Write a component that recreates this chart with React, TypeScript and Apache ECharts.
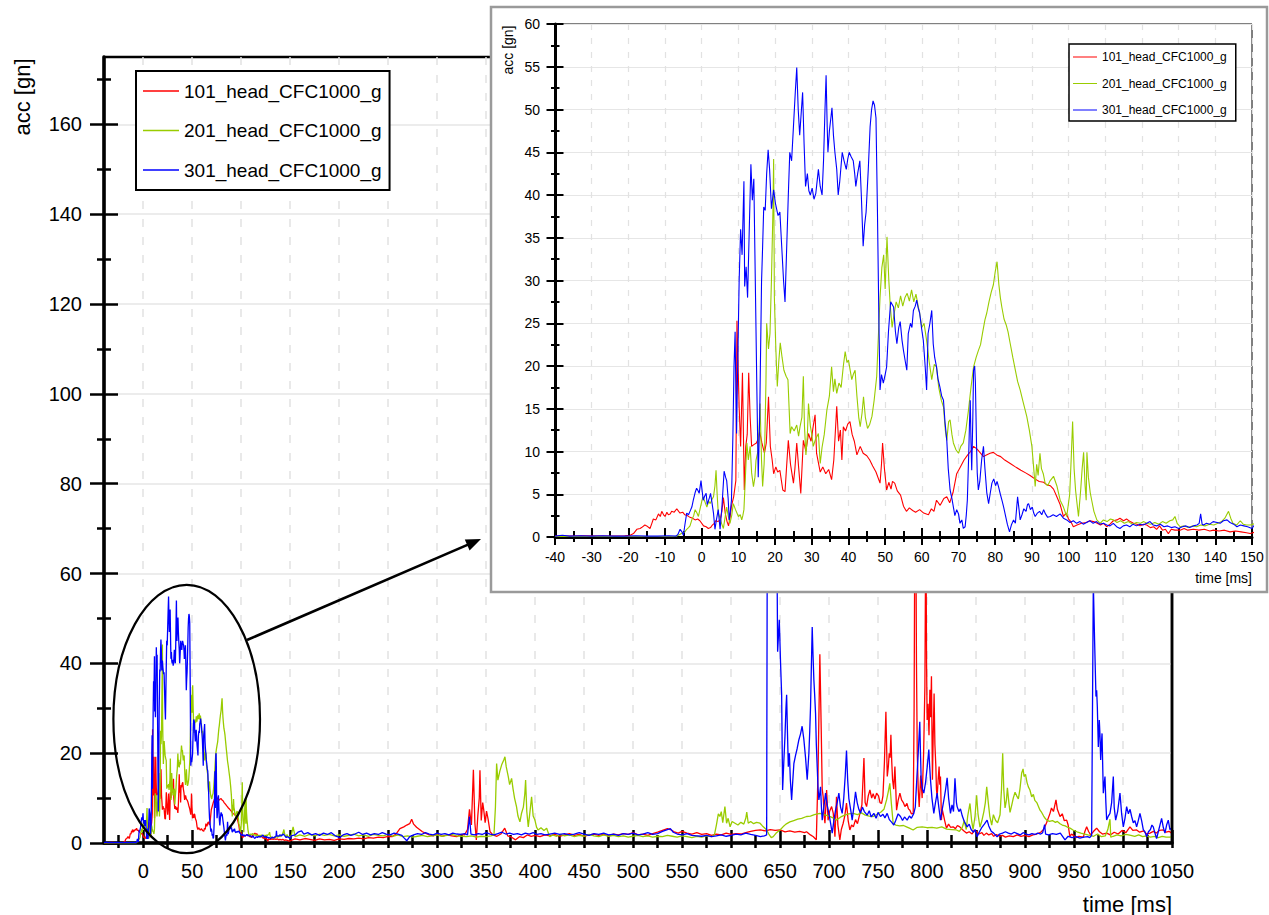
import React, { useEffect, useRef } from 'react';
import * as echarts from 'echarts';

const FONT = "'Liberation Sans', Arial, Helvetica, sans-serif";

const SERIES_NAMES = ['101_head_CFC1000_g', '201_head_CFC1000_g', '301_head_CFC1000_g'];
const SERIES_COLORS = ['#ff0000', '#99cc00', '#0000ff'];

// 101 head acceleration [time ms, acc g], impact phase
const head101Impact: [number, number][] = [
  [-40, 0.1], [-36, 0.1], [-32, 0.15], [-28, 0.1], [-24, 0.1], [-21, 0.15], [-19.5, 0.2], [-18.6, 0.4], [-17.7, 0.9], [-16.8, 1.0],
  [-16.4, 1.1], [-15.5, 1.4], [-15, 1.3], [-14.1, 1.0], [-13.6, 1.6], [-13.2, 2.1], [-12.5, 2.0], [-11.8, 2.7], [-11.3, 2.4], [-10.9, 3.0],
  [-10.4, 2.6], [-10, 2.4], [-9.5, 2.9], [-9.1, 2.6], [-8.6, 2.7], [-8.2, 3.0], [-7.5, 2.9], [-6.8, 3.3], [-6.3, 3.0], [-5.9, 2.8],
  [-5.2, 2.9], [-4.6, 2.6], [-3.9, 2.5], [-3.2, 2.3], [-2.5, 2.2], [-1.8, 2.0], [-1.1, 2.1], [-0.5, 1.9], [0.5, 1.3], [1.2, 1.2],
  [1.8, 1.0], [2.4, 1.1], [2.9, 1.4], [3.4, 1.6], [3.8, 1.9], [4.4, 1.8], [5.0, 2.0], [5.5, 3.0], [5.9, 4.6], [6.4, 2.8],
  [6.9, 1.8], [7.3, 1.3], [7.7, 2.2], [8.1, 3.6], [8.7, 4.7], [9.3, 6.6], [9.6, 25.3], [10.2, 15.2], [10.6, 10.6], [11.1, 19.2],
  [11.6, 5.5], [12.0, 10.6], [12.4, 12.0], [12.8, 19.2], [13.2, 14.0], [13.6, 10.6], [14.2, 10.8], [14.9, 11.0], [15.4, 11.5], [15.8, 12.3],
  [16.4, 11.0], [17.1, 9.8], [17.6, 11.0], [18.2, 16.4], [18.7, 10.6], [19.2, 9.0], [19.6, 7.4], [20.2, 8.2], [20.7, 7.6], [21.3, 7.8],
  [22.1, 5.5], [22.7, 5.3], [23.1, 8.0], [23.6, 11.3], [24.2, 8.5], [25.0, 6.3], [25.4, 8.0], [25.9, 11.0], [26.4, 8.2], [27.0, 5.1],
  [27.7, 11.3], [28.4, 10.0], [29.1, 12.1], [29.8, 11.2], [30.4, 13.0], [30.9, 14.3], [31.3, 9.8], [32.3, 7.6], [33.0, 8.2], [33.8, 7.4],
  [34.6, 7.9], [35.4, 6.7], [36.0, 9.0], [36.8, 15.3], [37.3, 11.2], [37.8, 12.5], [38.2, 9.0], [38.6, 12.9], [39.2, 12.4], [39.8, 13.2],
  [40.4, 13.5], [41.0, 12.0], [41.6, 11.2], [42.3, 9.6], [43.2, 10.6], [44.0, 9.8], [45.0, 9.5], [45.8, 9.0], [46.6, 8.3], [47.5, 7.6],
  [48.6, 6.3], [49.0, 8.5], [49.3, 11.0], [49.8, 8.0], [50.4, 5.5], [51.0, 6.4], [51.6, 5.6], [52.0, 6.5], [52.6, 6.3], [53.3, 5.4],
  [54.2, 4.9], [55.0, 3.6], [55.8, 3.0], [56.6, 3.4], [57.5, 3.1], [58.3, 2.9], [59.4, 3.2], [60.5, 2.8], [61.8, 2.6], [62.6, 3.3],
  [63.3, 3.0], [64.0, 4.3], [65.0, 3.7], [66.0, 4.5], [66.8, 4.7], [67.6, 4.0], [68.5, 5.2], [69.5, 7.4], [70.5, 8.2], [71.5, 9.0],
  [72.5, 9.6], [73.3, 10.0], [74.1, 10.6], [75.0, 10.3], [76.0, 9.8], [76.8, 9.4], [77.6, 9.6], [78.6, 9.8], [79.5, 9.9], [80.4, 9.6],
  [81.5, 9.4], [82.6, 9.0], [84.1, 8.6], [85.5, 8.2], [87.0, 7.8], [88.3, 7.5], [89.5, 7.2], [90.8, 6.8], [92.0, 6.5], [93.2, 6.4],
  [94.1, 6.1], [95.0, 6.0], [95.9, 5.6], [96.8, 4.7], [97.7, 3.8], [98.6, 2.4], [99.3, 2.8], [100.0, 2.1], [100.6, 1.8], [101.3, 1.2],
  [102.3, 1.4], [103.5, 1.6], [104.8, 1.7], [105.8, 1.9], [106.8, 1.8], [107.8, 1.6], [108.7, 1.4], [109.5, 1.6], [110.4, 1.2], [111.3, 1.5],
  [112.2, 1.9], [113.2, 2.0], [114.0, 2.2], [115.0, 1.9], [115.8, 2.1], [116.8, 1.8], [117.7, 1.6], [118.6, 1.5], [119.5, 1.3], [120.4, 1.5],
  [121.3, 1.4], [122.3, 1.1], [123.2, 1.2], [124.0, 0.9], [124.8, 1.3], [125.6, 0.8], [126.4, 0.9], [127.2, 0.4], [128.0, 0.9], [129.0, 0.8],
  [130.4, 0.8], [131.5, 1.0], [132.5, 0.8], [134.0, 0.9], [135.5, 0.8], [137.0, 0.9], [138.5, 0.7], [139.5, 0.8], [141.0, 0.7], [142.5, 0.8],
  [144.0, 0.6], [145.5, 0.7], [147.0, 0.6], [148.5, 0.5], [149.5, 0.4],
];

// 101 head acceleration, remaining record
const head101Tail: [number, number][] = [
  [151, 0.6], [155, 0.9], [160, 0.7], [165, 1.0], [170, 0.8], [175, 0.6], [180, 0.9], [185, 0.7], [190, 0.8], [195, 0.6],
  [200, 0.9], [205, 0.8], [210, 1.0], [215, 0.9], [220, 1.1], [225, 0.9], [230, 1.2], [235, 1.1], [240, 1.3], [245, 1.2],
  [250, 1.5], [254, 1.4], [258, 2.0], [262, 3.2], [266, 3.6], [269, 4.0], [272, 4.3], [274, 5.3], [276, 4.2], [279, 3.5],
  [282, 3.0], [285, 2.5], [288, 2.2], [292, 1.8], [296, 1.6], [300, 1.9], [305, 1.5], [310, 1.8], [315, 1.6], [320, 1.4],
  [324, 1.9], [328, 1.8], [331, 3.0], [333, 7.5], [335, 4.0], [337, 16.3], [338.5, 4.5], [340, 0.7], [341.5, 6.0], [343, 10.0],
  [343.7, 16.2], [345, 5.0], [346.5, 9.0], [347.5, 7.5], [349, 4.5], [350.4, 7.1], [352, 5.3], [354, 2.5], [357, 1.8], [361, 1.5],
  [365, 2.0], [369, 3.3], [372, 1.6], [376, 1.3], [380, 0.7], [384, 1.4], [388, 1.2], [392, 1.8], [396, 1.5], [400, 1.7],
  [405, 1.4], [410, 1.8], [415, 1.6], [420, 1.9], [425, 1.5], [430, 1.8], [435, 2.1], [440, 1.7], [445, 1.9], [450, 1.5],
  [455, 1.8], [460, 2.0], [465, 1.7], [470, 1.9], [475, 1.6], [480, 2.0], [485, 1.8], [490, 2.1], [495, 1.9], [500, 2.3],
  [505, 1.8], [510, 2.0], [515, 1.7], [520, 2.1], [525, 2.4], [530, 2.8], [535, 3.2], [538, 3.0], [542, 2.5], [546, 2.2],
  [550, 2.6], [555, 2.2], [560, 2.0], [565, 2.3], [570, 1.9], [575, 2.1], [580, 1.7], [585, 2.0], [590, 1.8], [595, 2.2],
  [600, 1.9], [605, 2.1], [610, 2.0], [615, 2.3], [620, 2.6], [625, 2.8], [630, 2.9], [635, 2.7], [640, 3.0], [645, 2.8],
  [650, 2.9], [655, 2.5], [660, 2.7], [665, 2.4], [670, 2.6], [675, 2.3], [677, 2.5], [681, 1.8], [684, 1.4], [687, 0.7],
  [688.8, 16.4], [690.6, 42.0], [692, 25.2], [693, 12.0], [694, 10.3], [695, 6.0], [695.8, 4.4], [697.5, 11.8], [699, 5.1], [700.5, 7.0],
  [702.6, 8.1], [704.3, 6.6], [706, 1.4], [707.6, 10.3], [709, 4.0], [711, 0.7], [712.5, 3.0], [714.4, 4.4], [716, 6.0], [717.8, 8.9],
  [719.5, 5.0], [721.2, 2.9], [723, 4.0], [724.8, 3.6], [727, 5.2], [729, 4.3], [731.5, 6.6], [733.5, 8.5], [735.6, 18.9], [736.8, 9.0],
  [738.3, 8.1], [740, 10.5], [741.7, 11.8], [743.5, 10.0], [745, 11.0], [746.8, 9.8], [748.5, 11.1], [750.5, 10.5], [752, 9.0], [753.6, 8.8],
  [755, 10.5], [756.5, 18.0], [758, 29.2], [759.4, 14.8], [760.5, 17.0], [761.4, 20.0], [762.3, 19.0], [763.1, 24.1], [764, 18.0], [764.8, 14.1],
  [766, 12.0], [767.2, 17.0], [768.1, 12.0], [768.9, 7.3], [770.5, 9.5], [772.3, 11.1], [774, 9.6], [775.8, 9.0], [777.4, 8.1], [779.5, 8.8],
  [781, 7.6], [782.5, 7.3], [784, 6.5], [785.9, 6.6], [786.8, 30.0], [787.6, 75.0], [788.5, 75.0], [789.2, 40.0], [790, 20.0], [791, 12.0],
  [792, 8.0], [793.5, 15.0], [795, 10.0], [796.5, 20.0], [797.8, 34.8], [798.8, 75.0], [799.5, 40.0], [800.1, 27.4], [801, 31.0], [802, 24.0],
  [802.9, 34.1], [803.7, 28.0], [804.5, 37.1], [805.5, 14.1], [806.3, 24.0], [807.2, 33.3], [808, 22.0], [809, 17.0], [809.6, 12.0], [810.3, 10.3],
  [811.3, 14.0], [812.3, 17.0], [813, 13.0], [813.7, 14.8], [814.7, 5.1], [815.5, 7.5], [816.4, 6.6], [818, 5.0], [819.8, 3.3], [822, 4.2],
  [824, 3.5], [826.6, 3.6], [829, 3.2], [831, 3.9], [833.4, 3.6], [836, 3.0], [838, 2.6], [840.2, 2.2], [843, 2.5], [846, 2.0],
  [848, 2.8], [850.4, 2.6], [853, 2.0], [856, 2.3], [858, 1.7], [860.6, 2.2], [863, 1.8], [866, 2.1], [868, 1.5], [870.8, 1.9],
  [874, 1.5], [877, 1.7], [880, 1.3], [884, 1.6], [888, 1.4], [892, 1.8], [896, 1.5], [900, 1.7], [904, 1.4], [908, 1.8],
  [912, 2.0], [916, 2.4], [919, 3.0], [922, 4.5], [925.5, 6.6], [927, 7.8], [929, 7.0], [931.6, 9.6], [933, 7.5], [935.7, 5.9],
  [938, 6.5], [940, 5.0], [942.5, 5.1], [944, 4.0], [945.8, 1.4], [947.5, 2.0], [949.3, 1.7], [952, 1.2], [955, 1.5], [959.5, 1.3],
  [961, 2.5], [962.9, 3.6], [965, 2.5], [967, 1.8], [970, 2.6], [973.1, 3.3], [976, 2.5], [979, 2.0], [983.3, 2.2], [987, 1.8],
  [991, 2.4], [995, 2.0], [999, 2.8], [1003, 2.3], [1007.1, 3.6], [1010, 2.8], [1013.9, 2.9], [1017, 2.4], [1021, 2.7], [1024, 2.0],
  [1027.5, 2.2], [1031, 2.6], [1034, 2.2], [1037, 2.8], [1041.1, 2.9], [1044, 2.4], [1047, 2.6], [1049.6, 2.2],
];

// 201 head acceleration, impact phase
const head201Impact: [number, number][] = [
  [-40, 0.05], [-30, 0.05], [-20, 0.05], [-12, 0.05], [-7.5, 0.05], [-6.8, 0.1], [-6.0, 0.3], [-5.2, 0.5], [-4.6, 0.6], [-4.1, 0.9],
  [-3.6, 1.1], [-3.2, 1.3], [-2.7, 2.0], [-2.2, 2.5], [-1.8, 3.2], [-1.3, 2.8], [-0.9, 2.4], [-0.4, 3.4], [0.3, 4.7], [0.8, 4.2],
  [1.4, 3.5], [1.9, 4.2], [2.3, 3.9], [2.8, 4.4], [3.2, 4.7], [3.6, 6.0], [3.9, 7.8], [4.2, 5.0], [4.5, 2.8], [5.0, 2.2],
  [5.4, 1.6], [5.9, 1.0], [6.4, 2.4], [6.8, 3.5], [7.2, 2.5], [7.7, 1.6], [8.2, 2.6], [8.6, 3.9], [9.2, 3.2], [10.0, 2.4],
  [10.5, 2.6], [10.9, 2.0], [11.2, 2.5], [11.5, 3.2], [11.9, 7.0], [12.3, 11.0], [12.7, 9.0], [13.2, 10.6], [13.6, 7.5], [14.1, 5.9],
  [14.5, 7.0], [14.8, 9.0], [15.4, 10.2], [15.9, 15.6], [16.3, 9.0], [16.6, 5.9], [17.0, 8.5], [17.2, 11.3], [17.5, 18.0], [17.7, 25.0],
  [18.2, 22.0], [18.6, 23.8], [19.0, 30.0], [19.4, 38.0], [19.6, 44.2], [19.8, 28.0], [20.2, 22.0], [20.6, 17.6], [21.0, 20.5], [21.4, 22.7],
  [21.9, 21.0], [22.4, 19.5], [23.0, 18.8], [23.5, 18.4], [24.1, 12.1], [24.5, 12.9], [25.2, 12.4], [25.9, 13.1], [26.4, 11.8], [26.8, 12.9],
  [27.3, 14.0], [27.7, 18.8], [28.0, 13.0], [28.4, 9.6], [28.8, 12.0], [29.1, 15.6], [29.6, 13.0], [30.0, 12.0], [30.4, 10.6], [31.0, 11.4],
  [31.8, 12.1], [32.3, 8.6], [32.8, 10.5], [33.4, 12.0], [34.1, 14.8], [34.8, 16.5], [35.4, 19.9], [35.9, 17.0], [36.3, 18.5], [36.8, 16.8],
  [37.4, 18.0], [38.0, 17.5], [38.6, 20.0], [39.1, 21.7], [39.6, 20.4], [40.0, 20.7], [40.5, 19.4], [40.9, 18.4], [41.3, 19.0], [41.8, 19.5],
  [42.3, 16.5], [42.8, 14.0], [43.2, 12.9], [43.7, 14.5], [44.1, 16.4], [44.6, 14.0], [45.2, 12.7], [45.8, 13.2], [46.4, 14.1], [47.0, 16.0],
  [47.7, 18.8], [48.2, 24.0], [48.6, 28.0], [49.1, 31.5], [49.6, 33.0], [50.0, 29.0], [50.5, 35.1], [51.0, 30.0], [51.4, 27.0], [51.9, 24.5],
  [52.4, 26.0], [53.0, 27.5], [53.6, 26.8], [54.2, 28.2], [54.8, 27.0], [55.4, 28.0], [56.0, 28.5], [56.6, 27.6], [57.2, 28.9], [57.8, 27.5],
  [58.4, 28.4], [59.0, 27.0], [59.4, 26.2], [60.0, 24.5], [60.6, 25.0], [61.3, 23.0], [62.0, 20.5], [62.7, 18.4], [63.4, 20.2], [64.0, 19.9],
  [64.6, 17.5], [65.3, 16.0], [65.9, 15.2], [66.4, 12.5], [66.8, 11.3], [67.3, 13.5], [67.7, 13.7], [68.2, 12.0], [68.6, 11.0], [69.3, 10.2],
  [70.0, 9.8], [70.6, 10.6], [71.3, 11.0], [72.0, 12.5], [72.7, 14.8], [73.4, 17.5], [74.1, 19.9], [74.8, 21.0], [75.4, 21.8], [76.0, 22.5],
  [76.6, 24.0], [77.2, 25.4], [77.7, 26.2], [78.3, 27.5], [78.9, 28.6], [79.5, 29.5], [80.0, 31.0], [80.5, 32.2], [81.0, 29.5], [81.4, 28.0],
  [81.8, 26.9], [82.4, 25.5], [83.0, 24.8], [83.5, 24.0], [84.1, 22.6], [84.8, 21.0], [85.5, 19.5], [86.1, 18.2], [86.8, 17.2], [87.6, 15.8],
  [88.6, 14.1], [89.3, 12.5], [90.0, 10.6], [90.5, 8.0], [90.9, 5.9], [91.3, 8.5], [91.7, 7.2], [92.2, 9.8], [92.6, 8.0], [93.1, 7.4],
  [93.6, 6.3], [94.3, 6.0], [95.0, 6.6], [95.9, 7.1], [96.8, 6.0], [97.7, 4.3], [98.6, 3.5], [99.5, 2.4], [100.3, 5.0], [100.7, 9.0],
  [101.1, 13.5], [101.5, 8.0], [101.9, 5.5], [102.2, 4.3], [102.7, 2.4], [103.3, 5.5], [103.7, 8.0], [104.1, 9.9], [104.5, 6.0], [104.8, 4.3],
  [105.0, 9.9], [105.4, 7.0], [105.9, 5.2], [106.3, 4.3], [106.9, 3.0], [107.7, 2.0], [108.6, 1.6], [109.5, 2.0], [110.5, 1.8], [111.4, 2.1],
  [112.2, 2.0], [113.2, 1.7], [114.2, 1.9], [115.2, 1.6], [116.3, 1.8], [117.4, 1.5], [118.5, 1.7], [119.6, 1.6], [120.5, 1.8], [121.3, 1.6],
  [122.4, 1.5], [123.5, 1.7], [124.6, 1.5], [125.6, 1.8], [126.6, 1.6], [127.6, 1.9], [128.4, 2.0], [129.0, 2.4], [129.6, 1.6], [130.4, 1.2],
  [131.5, 1.3], [132.6, 1.1], [133.7, 1.3], [134.9, 1.2], [136.0, 1.4], [137.2, 1.3], [138.4, 1.5], [139.6, 1.4], [140.7, 1.6], [141.7, 1.8],
  [142.6, 2.2], [143.6, 3.0], [144.2, 2.2], [144.8, 1.6], [145.8, 1.4], [146.8, 1.9], [147.6, 1.5], [148.5, 1.4], [149.5, 1.4],
];

// 201 head acceleration, remaining record
const head201Tail: [number, number][] = [
  [151, 1.6], [153, 3.6], [155, 1.4], [160, 1.8], [165, 1.5], [170, 1.9], [175, 1.6], [180, 2.0], [185, 1.7], [190, 1.9],
  [195, 1.6], [200, 1.8], [205, 1.5], [210, 1.7], [215, 2.0], [220, 1.6], [225, 1.8], [230, 1.5], [235, 1.9], [240, 1.7],
  [245, 1.6], [250, 1.9], [255, 1.5], [260, 1.8], [265, 1.4], [270, 1.6], [275, 1.3], [280, 1.5], [285, 1.7], [290, 1.4],
  [295, 1.6], [300, 1.8], [305, 1.5], [310, 1.7], [315, 1.9], [320, 1.6], [325, 1.5], [330, 1.4], [335, 1.6], [340, 1.3],
  [345, 1.5], [350, 1.4], [355, 1.6], [358, 1.8], [359.5, 8.0], [360.7, 17.7], [362, 14.0], [364, 16.0], [366, 17.5], [368, 18.5],
  [369.2, 19.2], [370.5, 17.0], [372.6, 14.8], [374, 13.0], [376, 14.4], [377.5, 12.0], [379, 10.0], [381, 8.1], [382.5, 6.0], [384.5, 4.7],
  [386, 6.5], [388, 8.0], [389.5, 11.0], [390.3, 14.0], [391.5, 7.0], [393, 3.6], [394.5, 6.5], [396.4, 10.3], [398, 6.0], [399.8, 5.1],
  [401.5, 3.5], [403, 2.9], [406, 3.4], [409, 2.8], [411.8, 3.3], [413.5, 2.2], [415, 1.4], [418, 1.8], [422, 1.5], [426, 1.9],
  [430, 1.6], [435, 1.8], [440, 1.4], [445, 1.7], [450, 1.5], [455, 1.9], [460, 1.6], [465, 1.4], [470, 1.8], [475, 1.5],
  [480, 1.7], [485, 1.4], [490, 1.6], [495, 1.3], [500, 1.5], [505, 1.7], [510, 1.4], [515, 1.6], [520, 1.3], [525, 1.5],
  [530, 1.4], [535, 1.7], [540, 1.5], [545, 1.3], [550, 1.6], [555, 1.4], [560, 1.2], [565, 1.5], [570, 1.3], [575, 1.6],
  [580, 1.4], [583, 1.8], [585, 4.0], [587, 6.5], [588.6, 5.9], [590, 7.0], [591.5, 4.5], [593.7, 8.1], [595.4, 4.4], [597, 5.5],
  [599, 3.6], [601, 4.8], [604, 4.4], [607, 4.0], [610, 4.6], [613, 4.2], [615, 5.5], [616, 6.9], [617.5, 4.4], [620, 4.8],
  [623, 4.3], [626, 4.6], [629.5, 4.4], [632, 3.8], [634, 3.4], [636.3, 2.9], [638.5, 2.0], [641, 1.2], [643, 1.4], [646, 2.2],
  [649.9, 2.9], [653, 3.6], [656, 4.2], [660, 4.7], [664, 5.0], [668, 5.3], [672, 5.5], [677, 5.9], [681, 6.0], [685, 6.3],
  [690.6, 6.6], [695, 6.3], [700, 6.0], [704, 5.6], [707.6, 5.1], [712, 5.8], [716, 6.2], [720, 6.5], [724.6, 6.6], [729, 6.3],
  [733, 6.7], [737, 6.2], [741, 6.0], [745, 5.9], [749, 6.4], [753, 6.9], [756, 7.5], [758.7, 9.6], [760.5, 11.5], [762, 13.3],
  [763.5, 9.0], [765.4, 4.4], [768, 4.0], [772, 3.8], [776, 3.9], [779, 3.6], [782, 3.3], [785.8, 2.9], [790, 3.5], [795, 3.6],
  [800, 3.4], [805, 3.5], [810, 3.3], [815, 3.6], [820, 3.1], [825, 3.0], [830, 2.9], [833, 2.6], [836, 3.5], [838, 5.0],
  [840, 3.0], [841.5, 6.0], [843.8, 8.8], [845.5, 5.0], [847, 3.0], [849, 6.0], [850.6, 10.6], [852, 6.5], [854, 3.5], [856, 5.0],
  [858, 7.0], [859.5, 9.0], [860.9, 12.5], [862.5, 9.0], [864, 6.0], [866, 4.0], [867.7, 6.3], [870, 5.0], [872, 4.5], [874.5, 6.3],
  [876, 12.0], [877.2, 20.0], [878.3, 12.0], [879.6, 7.8], [881, 9.5], [882, 12.3], [883.5, 9.0], [884.7, 6.8], [886.5, 8.5], [888, 10.0],
  [889.8, 11.3], [891.5, 10.5], [893.2, 9.8], [894.8, 12.0], [896.6, 15.6], [898, 16.5], [899, 14.8], [900.5, 15.3], [902, 13.5], [903.4, 12.5],
  [905, 11.8], [906.8, 10.3], [908.5, 10.8], [910, 9.5], [912, 9.0], [913.6, 8.2], [915.3, 7.3], [917, 6.8], [919, 6.0], [920.5, 5.5],
  [922.1, 5.1], [925, 4.8], [928, 5.0], [931, 4.6], [933, 4.8], [935.7, 4.3], [938, 4.0], [941, 3.8], [943.5, 3.5], [945.9, 3.3],
  [949, 2.9], [953, 2.5], [957, 2.2], [961, 2.0], [964, 1.8], [966.3, 1.7], [970, 1.5], [974, 2.0], [978, 1.4], [982, 1.6],
  [984.5, 3.0], [986.7, 5.3], [987.5, 1.3], [990, 1.5], [994, 1.8], [998, 1.6], [1003, 1.9], [1008, 1.7], [1012, 1.5], [1016, 1.8],
  [1020, 1.4], [1024, 1.6], [1028, 1.3], [1032, 1.5], [1036, 1.2], [1040, 1.5], [1044, 1.3], [1048, 1.3], [1050, 1.4],
];

// 301 head acceleration, impact phase
const head301Impact: [number, number][] = [
  [-40, 0.1], [-38, 0.2], [-36, 0.1], [-33, 0.15], [-30, 0.1], [-27, 0.15], [-24, 0.1], [-21, 0.1], [-18, 0.15], [-15, 0.1],
  [-12, 0.1], [-9, 0.15], [-7, 0.1], [-6.5, 0.3], [-5.9, 0.9], [-5.4, 0.6], [-5.0, 0.2], [-4.6, 1.4], [-4.1, 2.8], [-3.6, 2.6],
  [-3.2, 3.0], [-2.7, 3.5], [-2.3, 4.3], [-1.8, 5.2], [-1.4, 5.7], [-1.0, 5.4], [-0.7, 5.1], [-0.2, 6.6], [0.4, 4.3], [0.8, 4.8],
  [1.2, 5.1], [1.5, 3.8], [1.8, 4.2], [2.1, 4.6], [2.4, 5.1], [2.8, 4.0], [3.2, 2.8], [3.6, 0.9], [4.0, 2.0], [4.5, 3.2],
  [5.0, 0.9], [5.5, 3.5], [6.1, 7.7], [6.5, 7.0], [6.8, 6.6], [7.2, 4.5], [7.5, 2.0], [7.8, 3.0], [8.1, 4.3], [8.5, 12.0],
  [8.8, 20.0], [9.1, 24.0], [9.3, 17.0], [9.5, 12.1], [9.8, 20.0], [10.2, 30.0], [10.6, 36.0], [11.0, 33.0], [11.5, 41.6], [11.7, 29.3],
  [12.1, 31.6], [12.5, 28.0], [12.9, 35.0], [13.4, 43.6], [13.8, 39.4], [14.2, 41.9], [14.6, 30.0], [15.0, 18.0], [15.4, 7.0], [15.8, 14.0],
  [16.3, 29.8], [16.6, 34.0], [16.9, 38.6], [17.3, 38.2], [17.7, 42.5], [18.1, 45.3], [18.5, 43.0], [19.0, 38.4], [19.3, 39.5], [19.6, 40.6],
  [20.1, 39.0], [20.8, 37.6], [21.3, 38.0], [21.8, 34.0], [22.3, 30.0], [22.7, 27.5], [23.1, 33.0], [23.6, 40.0], [24.0, 45.0], [24.5, 44.0],
  [25.0, 48.0], [25.5, 52.0], [25.9, 54.9], [26.3, 50.0], [26.7, 47.0], [27.1, 49.5], [27.5, 52.0], [27.9, 46.0], [28.3, 41.0], [28.8, 42.5],
  [29.2, 40.5], [29.6, 40.0], [30.1, 40.8], [30.6, 39.5], [31.1, 40.2], [31.5, 41.8], [31.8, 43.0], [32.3, 41.0], [32.8, 40.0], [33.2, 44.0],
  [33.6, 50.0], [33.9, 54.0], [34.2, 48.0], [34.4, 45.0], [34.8, 47.5], [35.2, 49.0], [35.5, 50.2], [35.9, 47.0], [36.3, 45.0], [36.8, 43.0],
  [37.2, 40.0], [37.6, 41.5], [38.0, 43.5], [38.3, 45.0], [38.8, 44.0], [39.4, 43.0], [39.8, 44.2], [40.2, 45.0], [40.7, 44.5], [41.3, 44.0],
  [41.7, 42.5], [42.0, 41.0], [42.5, 42.5], [43.1, 44.0], [43.5, 40.0], [44.0, 34.0], [44.4, 36.5], [44.8, 38.0], [45.4, 43.0], [45.9, 48.0],
  [46.3, 50.0], [46.7, 51.0], [47.1, 50.5], [47.5, 49.0], [47.9, 38.0], [48.3, 25.0], [48.6, 17.2], [49.0, 19.0], [49.5, 18.0], [50.0, 19.0],
  [50.4, 19.9], [50.9, 24.0], [51.5, 27.5], [52.3, 26.9], [52.8, 24.0], [53.2, 22.6], [53.7, 24.5], [54.1, 25.2], [54.6, 23.0], [55.0, 21.8],
  [55.5, 20.5], [55.9, 19.5], [56.3, 23.8], [56.9, 25.0], [57.3, 24.5], [57.7, 26.5], [58.2, 27.0], [58.6, 27.7], [59.0, 26.8], [59.4, 26.2],
  [59.9, 24.5], [60.4, 23.0], [60.9, 20.0], [61.3, 17.2], [61.7, 23.8], [62.2, 25.0], [62.7, 26.5], [63.1, 22.6], [63.5, 21.0], [64.0, 19.9],
  [64.4, 18.5], [64.9, 17.6], [65.4, 16.5], [65.9, 16.0], [66.3, 13.5], [66.8, 11.3], [67.2, 8.0], [67.7, 5.5], [68.2, 4.5], [68.6, 3.5],
  [69.0, 2.5], [69.5, 3.2], [70.0, 2.7], [70.4, 1.6], [70.9, 2.0], [71.3, 1.0], [71.8, 1.2], [72.1, 2.5], [72.4, 4.3], [72.8, 10.0],
  [73.0, 13.5], [73.2, 16.0], [73.4, 11.0], [73.6, 7.8], [73.9, 14.0], [74.1, 19.5], [74.4, 20.0], [74.6, 18.0], [74.9, 11.0], [75.1, 7.5],
  [75.4, 5.5], [75.8, 6.5], [76.3, 9.0], [76.8, 10.6], [77.2, 8.0], [77.7, 5.2], [78.2, 3.9], [78.6, 5.0], [79.1, 6.3], [79.6, 6.8],
  [80.1, 6.0], [80.5, 6.5], [80.9, 5.9], [81.4, 5.0], [81.9, 4.2], [82.3, 3.5], [82.8, 2.5], [83.3, 1.5], [83.9, 0.6], [84.4, 1.4],
  [85.0, 2.0], [85.5, 1.6], [86.1, 4.7], [86.5, 3.2], [86.8, 2.0], [87.3, 2.6], [87.8, 3.3], [88.4, 3.0], [88.8, 3.8], [89.1, 3.9],
  [89.6, 3.2], [90.1, 3.5], [90.5, 2.8], [90.9, 2.4], [91.5, 2.8], [92.1, 3.0], [92.7, 2.6], [93.2, 3.2], [93.7, 2.7], [94.3, 2.3],
  [95.0, 2.4], [95.8, 2.6], [96.7, 2.4], [97.7, 2.7], [98.6, 2.2], [99.5, 2.0], [100.4, 1.7], [101.3, 1.9], [102.2, 1.6], [103.1, 1.8],
  [104.0, 1.5], [104.9, 1.7], [105.8, 1.9], [106.7, 1.6], [107.6, 1.8], [108.5, 1.5], [109.5, 1.6], [110.4, 1.4], [111.3, 1.3], [112.2, 1.6],
  [113.1, 1.2], [114.0, 1.0], [114.9, 1.3], [115.8, 1.4], [116.7, 1.2], [117.6, 1.5], [118.5, 1.3], [119.4, 1.5], [120.3, 1.4], [121.3, 1.6],
  [122.2, 1.8], [123.1, 1.4], [124.0, 1.3], [125.0, 1.5], [126.0, 1.2], [127.0, 1.3], [128.0, 1.1], [129.0, 1.2], [130.0, 1.0], [131.0, 1.2],
  [132.0, 1.3], [133.0, 1.1], [134.0, 1.3], [135.0, 1.4], [135.6, 1.6], [136.0, 2.7], [136.4, 1.5], [136.8, 1.4], [137.6, 1.6], [138.5, 1.5],
  [139.4, 1.8], [140.5, 1.7], [141.3, 1.6], [142.2, 1.9], [143.2, 2.0], [144.0, 1.7], [145.0, 1.5], [145.9, 1.2], [146.8, 1.4], [147.8, 1.3],
  [148.8, 1.2], [150, 1.0],
];

// 301 head acceleration, remaining record
const head301Tail: [number, number][] = [
  [151, 1.6], [155, 1.8], [158, 2.4], [161.6, 2.7], [164, 2.0], [168, 2.3], [172, 1.8], [176, 2.1], [180, 1.7], [184, 2.2],
  [188, 1.9], [192, 2.3], [196, 1.6], [200.8, 1.2], [204, 1.8], [208, 2.1], [212, 1.7], [216, 2.0], [220, 2.4], [224, 1.9],
  [228, 2.2], [232, 1.8], [236, 2.1], [240, 1.9], [244, 2.3], [248, 2.0], [252, 1.8], [256, 2.2], [260, 2.0], [264, 1.7],
  [266, 1.2], [269, 0.5], [272, 1.4], [276, 1.8], [280, 2.1], [284, 1.9], [288, 2.3], [292, 2.0], [296, 1.8], [300, 2.2],
  [304, 1.9], [308, 2.1], [312, 1.8], [316, 2.2], [320, 2.0], [324, 1.9], [328, 2.1], [331, 1.8], [333, 5.9], [334.5, 2.0],
  [338, 1.8], [342, 2.1], [346, 1.9], [350, 2.3], [354, 2.0], [358, 1.8], [362, 2.1], [366, 2.4], [370, 2.0], [374, 2.2],
  [378, 1.9], [382, 2.1], [386, 1.8], [390, 2.2], [394, 2.0], [398, 2.3], [402, 1.9], [406, 2.1], [410, 1.8], [415, 2.0],
  [420, 2.2], [425, 1.9], [430, 2.1], [435, 1.8], [440, 2.0], [445, 2.3], [450, 2.0], [455, 1.7], [460, 2.1], [465, 1.9],
  [470, 2.2], [475, 1.8], [480, 2.0], [485, 1.7], [490, 2.1], [495, 1.9], [500, 2.2], [505, 1.8], [510, 2.0], [515, 2.3],
  [520, 1.9], [525, 2.1], [530, 2.6], [535, 3.0], [538, 3.2], [541, 2.4], [545, 2.0], [550, 1.8], [555, 2.1], [560, 1.7],
  [565, 1.6], [570, 1.5], [575, 1.7], [580, 1.4], [585, 1.6], [590, 1.8], [595, 1.5], [600, 1.7], [605, 2.0], [610, 1.8],
  [615, 2.2], [620, 1.9], [625, 1.7], [630, 1.4], [634, 1.6], [636.3, 1.8], [637, 75.0], [646.5, 75.0], [647.5, 42.6], [649.2, 49.7],
  [650.5, 40.0], [651.6, 33.0], [652.6, 11.8], [653.8, 18.0], [655, 23.8], [656, 30.0], [656.7, 33.0], [657.5, 25.0], [658.4, 17.0], [659.5, 20.0],
  [660.5, 14.0], [661.8, 9.6], [663, 14.0], [664.1, 17.7], [665.8, 19.5], [667.5, 21.1], [669.2, 23.0], [670.9, 24.3], [672.5, 26.0], [674.3, 23.0],
  [676, 19.0], [677.7, 14.1], [679.4, 20.0], [680.3, 25.0], [681.1, 30.4], [682, 40.0], [682.8, 48.1], [683.6, 42.0], [684.5, 36.3], [685.3, 33.0],
  [686.2, 28.9], [687, 22.0], [687.9, 17.0], [688.8, 12.0], [689.6, 9.6], [690.5, 11.0], [691.3, 12.5], [692.2, 8.0], [693, 5.1], [694.7, 8.0],
  [696.4, 11.1], [698, 8.5], [699.8, 6.6], [701.5, 4.5], [703.2, 2.2], [704.9, 5.0], [706.6, 7.3], [708.3, 9.0], [710, 11.1], [711.7, 8.0],
  [713.4, 6.6], [715, 10.0], [716.5, 15.0], [717.8, 20.6], [719, 14.0], [720.2, 9.9], [722, 7.5], [723.6, 5.1], [725.3, 8.0], [727, 11.4],
  [728.7, 9.0], [730.4, 7.5], [732.1, 6.6], [734, 8.0], [736, 7.0], [738.9, 6.2], [741, 7.2], [743, 5.8], [745.7, 6.6], [748, 5.5],
  [750, 6.8], [752.5, 5.9], [755, 6.4], [757, 5.6], [759.3, 6.6], [761.5, 5.2], [764, 4.6], [766.1, 4.0], [768, 5.0], [770.5, 6.5],
  [772.9, 5.9], [775, 5.0], [777, 5.8], [779.7, 5.1], [782, 6.0], [784, 5.5], [786.5, 6.6], [788, 8.0], [789.5, 14.0], [791, 20.0],
  [792.6, 27.0], [793.3, 20.0], [794, 14.1], [795.3, 12.0], [796.7, 11.1], [798.5, 13.5], [800.2, 17.0], [801.8, 20.8], [802.7, 17.0], [803.5, 14.1],
  [805, 10.0], [806.9, 6.6], [808.6, 9.0], [810.3, 11.1], [812, 8.0], [813.7, 5.1], [815.5, 7.5], [817.5, 10.0], [819, 12.0], [820.5, 14.5],
  [822, 10.0], [823.9, 6.6], [825.5, 8.5], [827, 7.0], [828.5, 14.4], [830, 9.0], [830.7, 8.1], [832.5, 7.0], [834.1, 7.6], [836, 6.0],
  [838, 4.8], [840.9, 3.6], [843, 4.2], [845, 3.0], [847.5, 2.4], [849, 3.0], [851.1, 1.4], [853.5, 2.5], [856, 3.5], [858.5, 4.2],
  [861.3, 5.1], [863, 3.8], [865.5, 2.6], [868, 2.2], [871.5, 1.4], [874, 2.0], [877, 2.2], [880, 2.5], [883, 2.2], [886, 2.0],
  [889, 2.4], [892, 2.1], [895, 1.8], [898, 2.3], [901, 2.0], [904, 1.8], [907, 2.1], [910, 1.9], [913, 2.2], [916, 2.0],
  [918, 2.3], [920, 4.1], [921, 2.0], [924, 1.8], [928, 2.1], [932, 1.9], [936, 2.2], [940.8, 0.7], [944, 1.5], [948, 1.2],
  [952, 1.4], [956, 1.1], [960, 1.3], [964, 1.4], [966, 1.2], [968, 1.7], [969.7, 58.0], [971, 45.0], [972.4, 32.6], [973.1, 34.0],
  [973.8, 30.3], [974.8, 21.4], [975.8, 27.4], [976.5, 24.0], [977.2, 18.5], [977.9, 22.0], [978.6, 24.4], [979.3, 17.0], [979.9, 11.1], [980.7, 13.0],
  [981.6, 14.8], [982.5, 9.0], [983.3, 5.1], [985, 6.0], [986.7, 6.6], [988.4, 9.0], [990.1, 14.8], [991, 8.0], [992.5, 5.1], [994.5, 7.0],
  [996.9, 11.1], [998.6, 6.5], [1000.3, 3.6], [1002, 5.5], [1003.7, 8.1], [1005.5, 6.5], [1007.2, 7.5], [1008.8, 5.9], [1010.5, 4.5], [1012.2, 5.0],
  [1013.9, 3.6], [1015.6, 5.0], [1017.3, 6.6], [1019, 5.0], [1020.7, 3.0], [1022.4, 2.5], [1024.1, 1.4], [1026, 2.5], [1028, 3.0], [1029.5, 4.0],
  [1030.9, 3.6], [1032.6, 2.2], [1034.3, 1.0], [1036, 2.5], [1037.7, 4.0], [1039.4, 5.5], [1041.1, 3.5], [1042.8, 2.2], [1044.5, 4.0], [1046.2, 5.1],
  [1047.9, 3.0], [1049.6, 3.3], [1050, 4.0],
];

// Tick values of the full-record chart
const mainTimeTicks = [0, 50, 100, 150, 200, 250, 300, 350, 400, 450, 500, 550, 600, 650, 700, 750, 800, 850, 900, 950, 1000, 1050];
const mainTimeMinor = [-25, 25, 75, 125, 175, 225, 275, 325, 375, 425, 475, 525, 575, 625, 675, 725, 775, 825, 875, 925, 975, 1025];
const mainAccTicks = [0, 20, 40, 60, 80, 100, 120, 140, 160];
const mainAccMinor = [10, 30, 50, 70, 90, 110, 130, 150, 170];

// Tick values of the impact-window chart
const zoomTimeTicks = [-40, -30, -20, -10, 0, 10, 20, 30, 40, 50, 60, 70, 80, 90, 100, 110, 120, 130, 140, 150];
const zoomTimeMinor = [-35, -25, -15, -5, 5, 15, 25, 35, 45, 55, 65, 75, 85, 95, 105, 115, 125, 135, 145];
const zoomAccTicks = [0, 5, 10, 15, 20, 25, 30, 35, 40, 45, 50, 55, 60];
const zoomAccMinor = [2.5, 7.5, 12.5, 17.5, 22.5, 27.5, 32.5, 37.5, 42.5, 47.5, 52.5, 57.5];

const seriesData = [
  [...head101Impact, ...head101Tail],
  [...head201Impact, ...head201Tail],
  [...head301Impact, ...head301Tail],
];

const plainNumber = (v: number) => String(v);

function tickOnlyAxis(dim: 'x' | 'y', gridIndex: number, min: number, max: number, values: number[], inside: boolean, length: number, width: number, z: number) {
  return {
    type: 'value',
    gridIndex,
    min,
    max,
    z,
    position: dim === 'x' ? 'bottom' : 'left',
    axisLine: { show: false, onZero: false },
    axisLabel: { show: false },
    splitLine: { show: false },
    axisTick: { show: true, customValues: values, inside, length, lineStyle: { color: '#000', width } },
  };
}

function buildOption() {
  const mainX = {
    type: 'value', gridIndex: 0, min: -40, max: 1050, position: 'bottom',
    axisLine: { show: true, onZero: false, lineStyle: { color: '#000', width: 3.5 } },
    axisTick: { show: true, customValues: mainTimeTicks, inside: true, length: 13, lineStyle: { color: '#000', width: 2.5 } },
    axisLabel: { show: true, customValues: mainTimeTicks, formatter: plainNumber, margin: 18, fontSize: 20, color: '#000', fontFamily: FONT, hideOverlap: false },
    splitLine: { show: true, lineStyle: { color: '#e2e2e2', width: 1.5, type: [8, 10] } },
  };
  const mainY = {
    type: 'value', gridIndex: 0, min: 0, max: 175, position: 'left',
    axisLine: { show: true, onZero: false, lineStyle: { color: '#000', width: 3.5 } },
    axisTick: { show: true, customValues: mainAccTicks, inside: false, length: 14, lineStyle: { color: '#000', width: 2.5 } },
    axisLabel: { show: true, customValues: mainAccTicks, formatter: plainNumber, margin: 22, fontSize: 20, color: '#000', fontFamily: FONT },
    splitLine: { show: true, lineStyle: { color: '#e6e6e6', width: 1.5, type: 'solid' } },
  };
  const zoomX = {
    type: 'value', gridIndex: 1, min: -40, max: 150, position: 'bottom', z: 60,
    axisLine: { show: true, onZero: false, lineStyle: { color: '#000', width: 3 } },
    axisTick: { show: true, customValues: zoomTimeTicks, inside: true, length: 9, lineStyle: { color: '#000', width: 2 } },
    axisLabel: { show: true, customValues: zoomTimeTicks, formatter: plainNumber, margin: 13, fontSize: 14, color: '#000', fontFamily: FONT, hideOverlap: false },
    splitLine: { show: true, lineStyle: { color: '#e2e2e2', width: 1.2, type: [6, 8] } },
  };
  const zoomY = {
    type: 'value', gridIndex: 1, min: 0, max: 60, position: 'left', z: 60,
    axisLine: { show: true, onZero: false, lineStyle: { color: '#000', width: 3 } },
    axisTick: { show: true, customValues: zoomAccTicks, inside: false, length: 8.5, lineStyle: { color: '#000', width: 2 } },
    axisLabel: { show: true, customValues: zoomAccTicks, formatter: plainNumber, margin: 15, fontSize: 14, color: '#000', fontFamily: FONT },
    splitLine: { show: true, lineStyle: { color: '#e6e6e6', width: 1.2, type: 'solid' } },
  };

  const xAxis = [
    mainX,
    tickOnlyAxis('x', 0, -40, 1050, [...mainTimeMinor, ...mainTimeTicks], false, 5, 2.5, 0),
    tickOnlyAxis('x', 0, -40, 1050, mainTimeMinor, true, 8, 2.5, 0),
    zoomX,
    tickOnlyAxis('x', 1, -40, 150, zoomTimeTicks, false, 8, 2, 60),
    tickOnlyAxis('x', 1, -40, 150, zoomTimeMinor, true, 6, 2, 60),
    tickOnlyAxis('x', 1, -40, 150, zoomTimeMinor, false, 5, 2, 60),
  ];
  const yAxis = [
    mainY,
    tickOnlyAxis('y', 0, 0, 175, mainAccTicks, true, 14, 2.5, 0),
    tickOnlyAxis('y', 0, 0, 175, mainAccMinor, false, 7, 2.5, 0),
    tickOnlyAxis('y', 0, 0, 175, mainAccMinor, true, 7, 2.5, 0),
    zoomY,
    tickOnlyAxis('y', 1, 0, 60, zoomAccTicks, true, 8.5, 2, 60),
    tickOnlyAxis('y', 1, 0, 60, zoomAccMinor, false, 4, 2, 60),
    tickOnlyAxis('y', 1, 0, 60, zoomAccMinor, true, 4.5, 2, 60),
  ];

  const mainSeries = SERIES_NAMES.map((name, i) => ({
    name, type: 'line', xAxisIndex: 0, yAxisIndex: 0, data: seriesData[i],
    symbol: 'none', showSymbol: false, clip: true, z: 2,
    lineStyle: { color: SERIES_COLORS[i], width: 1.3 }, itemStyle: { color: SERIES_COLORS[i] },
  }));
  const zoomSeries = SERIES_NAMES.map((name, i) => ({
    name, type: 'line', xAxisIndex: 3, yAxisIndex: 4, data: seriesData[i],
    symbol: 'none', showSymbol: false, clip: true, z: 61,
    lineStyle: { color: SERIES_COLORS[i], width: 1.1 }, itemStyle: { color: SERIES_COLORS[i] },
  }));

  const text = (t: string, x: number, y: number, size: number, align: string, rotation = 0) => ({
    type: 'text', x, y, rotation, z: 70, silent: true,
    style: {
      text: t, fill: '#000', fontSize: size, fontFamily: FONT,
      align, verticalAlign: 'middle', textAlign: align, textVerticalAlign: 'middle',
    },
  });

  return {
    animation: false,
    backgroundColor: '#fff',
    grid: [
      { left: 104, top: 57, width: 1068, height: 786, show: true, borderColor: '#000', borderWidth: 2.5, backgroundColor: 'transparent', containLabel: false, outerBoundsMode: 'none' },
      { left: 555, top: 24, width: 697, height: 513, show: true, borderColor: '#000', borderWidth: 1, backgroundColor: 'transparent', containLabel: false, outerBoundsMode: 'none', z: 60 },
    ],
    xAxis,
    yAxis,
    legend: [
      {
        orient: 'vertical', left: 136, top: 71, selectedMode: false,
        icon: 'rect', itemWidth: 36, itemHeight: 1.5, itemGap: 20.5, padding: [10.5, 8, 10.5, 7],
        borderColor: '#000', borderWidth: 2, backgroundColor: '#fff',
        textStyle: { fontSize: 19, color: '#000', fontFamily: FONT, height: 19, lineHeight: 19 },
        data: SERIES_NAMES,
      },
      {
        orient: 'vertical', left: 1069, top: 44, selectedMode: false, z: 70,
        icon: 'rect', itemWidth: 24, itemHeight: 1, itemGap: 14.5, padding: [7, 9, 5, 4],
        borderColor: '#000', borderWidth: 1.5, backgroundColor: '#fff',
        textStyle: { fontSize: 12, color: '#000', fontFamily: FONT, height: 12, lineHeight: 12 },
        data: SERIES_NAMES,
      },
    ],
    graphic: [
      {
        type: 'ellipse', z: 10, silent: true,
        shape: { cx: 186.7, cy: 719, rx: 73.3, ry: 134.2 },
        style: { fill: 'none', stroke: '#000', lineWidth: 2.2 },
      },
      {
        type: 'line', z: 10, silent: true,
        shape: { x1: 247, y1: 640, x2: 468, y2: 544.6 },
        style: { stroke: '#000', lineWidth: 2.6 },
      },
      {
        type: 'polygon', z: 10, silent: true,
        shape: { points: [[481, 539], [469.6, 550.4], [464.8, 539.4]] },
        style: { fill: '#000' },
      },
      {
        // right-hand frame edge of the full-record plot, drawn over its last grid line
        type: 'line', z: 5, silent: true,
        shape: { x1: 1172, y1: 57, x2: 1172, y2: 843 },
        style: { stroke: '#000', lineWidth: 2.5 },
      },
      {
        type: 'rect', z: 50, silent: true,
        shape: { x: 491, y: 7, width: 776, height: 585 },
        style: { fill: '#fff', stroke: '#9a9a9a', lineWidth: 2.5 },
      },
      text('acc [gn]', 22, 97, 22, 'center', Math.PI / 2),
      text('time [ms]', 1172, 904, 22, 'right'),
      text('acc [gn]', 508, 50, 14, 'center', Math.PI / 2),
      text('time [ms]', 1252, 577.5, 14, 'right'),
    ],
    series: [...mainSeries, ...zoomSeries],
  };
}

export default function App() {
  const ref = useRef<HTMLDivElement>(null);
  useEffect(() => {
    if (!ref.current) return;
    const chart = echarts.init(ref.current, null, { renderer: 'svg' });
    chart.setOption(buildOption() as any);
    return () => chart.dispose();
  }, []);
  return (
    <div
      ref={ref}
      style={{ position: 'fixed', left: 0, top: 0, width: 1269, height: 915, background: '#fff' }}
    />
  );
}
